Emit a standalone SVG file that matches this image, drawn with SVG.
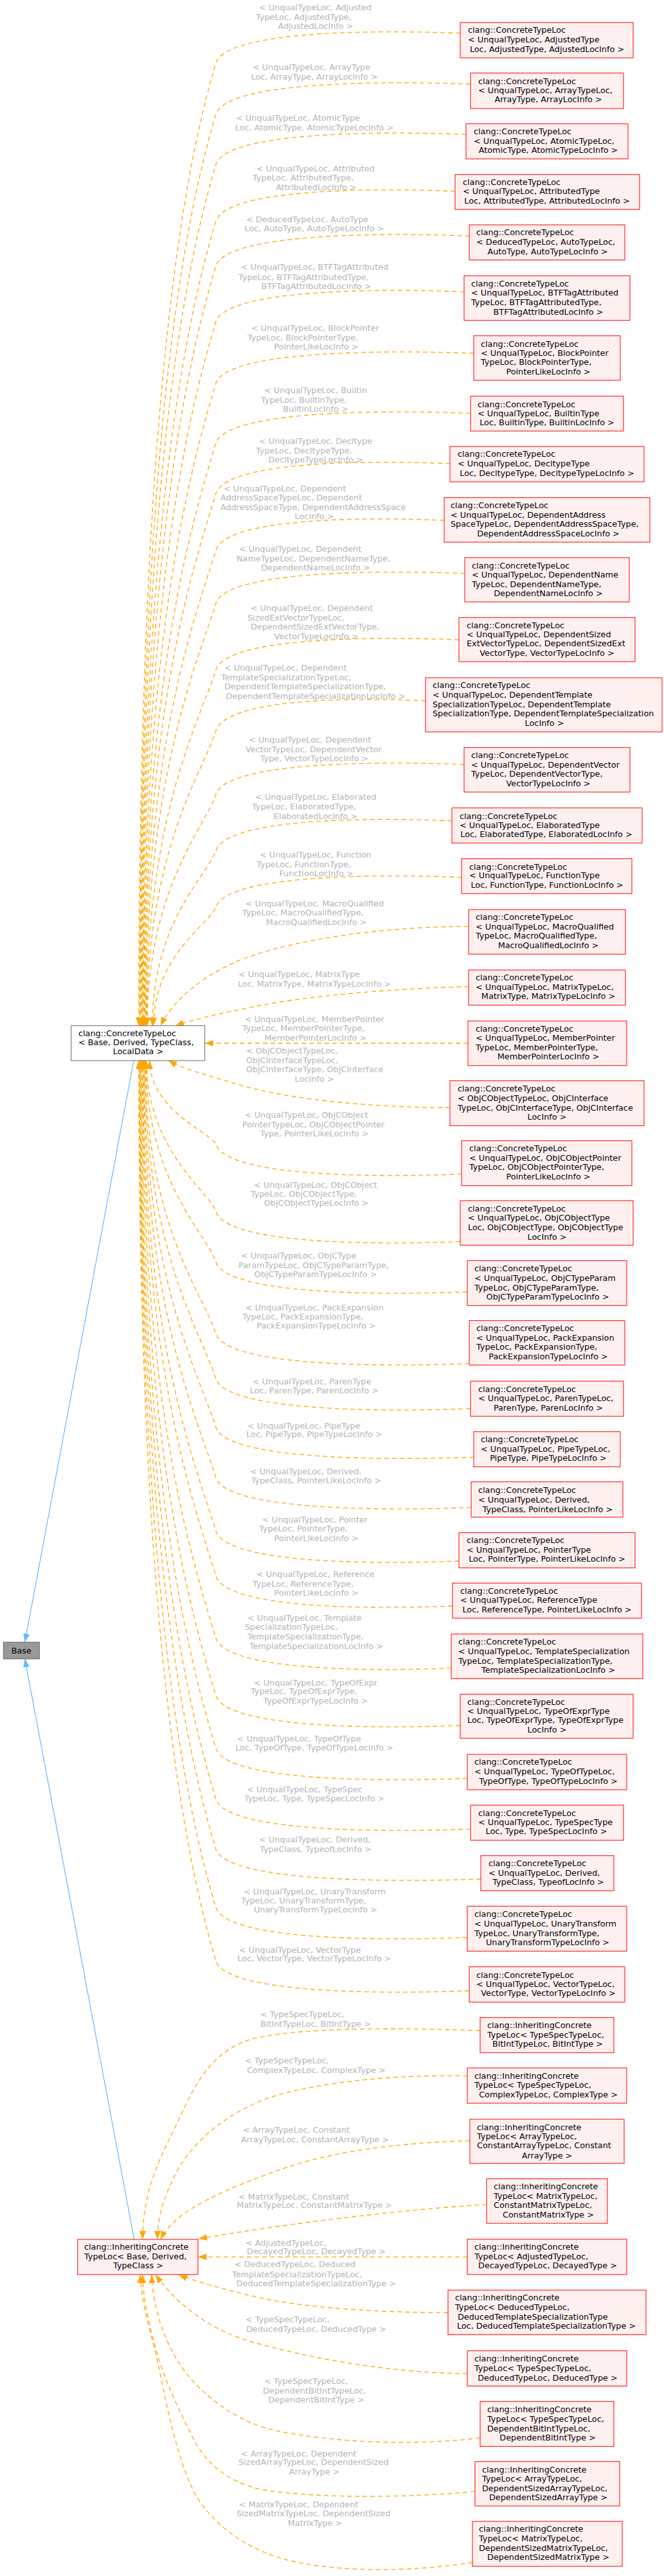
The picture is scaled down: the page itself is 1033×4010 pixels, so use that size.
<svg xmlns="http://www.w3.org/2000/svg" width="1033" height="4010" viewBox="0 0 1033 4010">
<defs>
<style>
.e{fill:none;stroke:#ffa500;stroke-width:1.3;stroke-dasharray:7,5;marker-end:url(#ao)}
.s{fill:none;stroke:#ffa500;stroke-width:1.3;stroke-dasharray:7,5;marker-end:url(#ao)}
.b{fill:none;stroke:#63b8ff;stroke-width:1.2;marker-end:url(#ab)}
.l{font-family:"DejaVu Sans",sans-serif;font-size:12.8px;fill:#b4b4b4}
.n text{font-family:"DejaVu Sans",sans-serif;font-size:12.8px;fill:#000}
.m{text-anchor:middle}
.r rect{fill:#fff0f0;stroke:#ff0000;stroke-width:1}
.w rect{fill:#ffffff;stroke:#666666;stroke-width:1}
.g rect{fill:#999999;stroke:#666666;stroke-width:1}
</style>
<marker id="ao" markerUnits="userSpaceOnUse" viewBox="0 0 13 10" markerWidth="13" markerHeight="10" refX="13" refY="5" orient="auto"><path d="M0,0L13,5L0,10z" fill="#ffa500"/></marker>
<marker id="ab" markerUnits="userSpaceOnUse" viewBox="0 0 13 10" markerWidth="13" markerHeight="10" refX="13" refY="5" orient="auto"><path d="M0,0L13,5L0,10z" fill="#63b8ff"/></marker>
</defs>
<rect width="1033" height="4010" fill="#ffffff"/>
<g id="connectors">
<path class="b" d="M208,1651 L38.7,2556.3"/>
<path class="b" d="M208.7,3486 L38.7,2582.3"/>
<path class="e" d="M716,51.7 C564,45.7 353,49.7 336,97.7 C276,297.7 216,697.3 216,1596.7"/>
<path class="e" d="M732,131 C574,125 353,129 336,177 C278.5,368.7 217,744.9 217,1596.7"/>
<path class="e" d="M725,209.3 C569,203.3 353,207.3 336,255.3 C281.7,436.4 218,791.9 218,1596.7"/>
<path class="e" d="M708,297.7 C559,291.7 353,295.7 336,343.7 C285.2,512.9 219,844.9 219,1596.7"/>
<path class="e" d="M730,367.3 C572,361.3 353,365.3 336,413.3 C288.1,573.1 220,886.7 220,1596.7"/>
<path class="e" d="M722,454.3 C568,448.3 353,452.3 336,500.3 C291.6,648.3 221,938.9 221,1596.7"/>
<path class="e" d="M737,550 C577,544 353,548 336,596 C295.5,731.1 222,996.3 222,1596.7"/>
<path class="e" d="M732,643.3 C574,637.3 353,641.3 336,689.3 C299.3,811.8 223,1052.3 223,1596.7"/>
<path class="e" d="M700,721.7 C554,715.7 353,719.7 336,767.7 C302.4,879.6 224,1099.3 224,1596.7"/>
<path class="e" d="M691,810 C549,804 353,808 336,856 C306,956 225,1152.3 225,1596.7"/>
<path class="e" d="M723,892.7 C568,886.7 353,890.7 336,938.7 C309.4,1027.5 226,1201.9 226,1596.7"/>
<path class="e" d="M714,996 C563,990 353,994 336,1042 C313.5,1116.9 227,1263.9 227,1596.7"/>
<path class="e" d="M662,1091 C532,1085 353,1089 336,1137 C317.4,1199.1 228,1320.9 228,1596.7"/>
<path class="e" d="M722,1190 C568,1184 353,1188 336,1236 C321.4,1284.7 229,1380.3 229,1596.7"/>
<path class="e" d="M703,1277.7 C556,1271.7 353,1275.7 336,1323.7 C324.9,1360.6 237,1432.9 237,1596.7"/>
<path class="e" d="M718,1365.7 C565,1359.7 353,1363.7 336,1411.7 C328.5,1436.7 239,1485.7 239,1596.7"/>
<path class="e" d="M729,1442.3 C600,1442 460,1462 380,1492 C320,1515 270,1555 250,1596.7"/>
<path class="e" d="M729,1536 C620,1538 480,1550 400,1566 C340,1578 300,1587 273,1596.7"/>
<path class="e" d="M728,1624 L318.7,1624"/>
<path class="e" d="M700,1724.3 C580,1724 450,1712 370,1688 C320,1673 285,1664 262,1651"/>
<path class="e" d="M718,1827.7 C565,1833.7 353,1829.7 336,1781.7 C330.7,1764.1 233,1729.4 233,1651"/>
<path class="e" d="M716,1932.7 C564,1938.7 353,1934.7 336,1886.7 C326.5,1854.9 228,1792.4 228,1651"/>
<path class="e" d="M727,2011 C571,2017 353,2013 336,1965 C323.3,1922.6 227,1839.4 227,1651"/>
<path class="e" d="M730,2122.7 C572,2128.7 353,2124.7 336,2076.7 C318.8,2019.2 226,1906.4 226,1651"/>
<path class="e" d="M732,2192.7 C574,2198.7 353,2194.7 336,2146.7 C315.9,2079.8 225,1948.4 225,1651"/>
<path class="e" d="M737,2268.3 C577,2274.3 353,2270.3 336,2222.3 C312.9,2145.2 224,1993.8 224,1651"/>
<path class="e" d="M733,2346.7 C574,2352.7 353,2348.7 336,2300.7 C309.7,2213 223,2040.8 223,1651"/>
<path class="e" d="M714,2430 C563,2436 353,2432 336,2384 C306.3,2285 222,2090.8 222,1651"/>
<path class="e" d="M704,2500 C557,2506 353,2502 336,2454 C303.5,2345.6 221,2132.8 221,1651"/>
<path class="e" d="M702,2596.7 C556,2602.7 353,2598.7 336,2550.7 C299.6,2429.2 220,2190.8 220,1651"/>
<path class="e" d="M716,2686 C564,2692 353,2688 336,2640 C296,2506.5 219,2244.4 219,1651"/>
<path class="e" d="M727,2768.3 C571,2774.3 353,2770.3 336,2722.3 C292.6,2577.7 218,2293.8 218,1651"/>
<path class="e" d="M732,2847.3 C574,2853.3 353,2849.3 336,2801.3 C289.4,2646 217.5,2341.2 217.5,1651"/>
<path class="e" d="M748,2925 C583,2931 353,2927 336,2879 C286.3,2713.2 217,2387.8 217,1651"/>
<path class="e" d="M727,3016 C571,3022 353,3018 336,2970 C282.6,2791.9 216.5,2442.4 216.5,1651"/>
<path class="e" d="M730,3099 C572,3105 353,3101 336,3053 C279.2,2863.7 216,2492.2 216,1651"/>
<path class="e" d="M747,3161 C640,3157 480,3155 400,3172 C340,3186 310,3230 285,3285 C255,3350 222,3400 222,3486"/>
<path class="e" d="M727,3231.7 C620,3229 500,3240 420,3265 C350,3290 300,3335 275,3380 C255,3420 245,3450 245,3486"/>
<path class="e" d="M731,3332.3 C620,3336 520,3348 440,3376 C360,3404 270,3440 250,3486"/>
<path class="e" d="M757,3431.7 C650,3438 480,3456 309,3485"/>
<path class="e" d="M727,3513.3 L308,3513.3"/>
<path class="e" d="M697,3600 C600,3600 480,3594 400,3576 C350,3564 300,3550 278,3541.5"/>
<path class="e" d="M727,3695 C600,3694 470,3668 390,3645 C320,3625 270,3580 242,3541"/>
<path class="e" d="M747,3795 C640,3808 520,3802 430,3784 C360,3768 315,3725 290,3695 C260,3655 238,3600 236,3541"/>
<path class="e" d="M739,3878.3 C640,3888 500,3890 410,3876 C350,3864 318,3830 300,3795 C270,3735 250,3690 238,3640 C228,3600 222,3570 222,3541"/>
<path class="e" d="M735,3989 C640,4004 510,4006 430,3980 C370,3960 330,3925 305,3885 C280,3840 262,3760 248,3690 C238,3640 220,3590 218,3541"/>
<text class="l" x="403" y="16.2">&lt; UnqualTypeLoc, Adjusted</text><text class="l" x="398" y="31.2">TypeLoc, AdjustedType,</text><text class="l m" x="491" y="45.2">AdjustedLocInfo &gt;</text>
<text class="l" x="393" y="109.2">&lt; UnqualTypeLoc, ArrayType</text><text class="l m" x="489" y="123.8">Loc, ArrayType, ArrayLocInfo &gt;</text>
<text class="l" x="367" y="188.2">&lt; UnqualTypeLoc, AtomicType</text><text class="l m" x="489" y="203.2">Loc, AtomicType, AtomicTypeLocInfo &gt;</text>
<text class="l" x="399" y="267.2">&lt; UnqualTypeLoc, Attributed</text><text class="l" x="393" y="281.2">TypeLoc, AttributedType,</text><text class="l m" x="492" y="296.2">AttributedLocInfo &gt;</text>
<text class="l" x="383" y="345.5">&lt; DeducedTypeLoc, AutoType</text><text class="l m" x="489" y="360.2">Loc, AutoType, AutoTypeLocInfo &gt;</text>
<text class="l" x="375" y="420.2">&lt; UnqualTypeLoc, BTFTagAttributed</text><text class="l" x="371" y="435.5">TypeLoc, BTFTagAttributedType,</text><text class="l m" x="492" y="449.5">BTFTagAttributedLocInfo &gt;</text>
<text class="l" x="391" y="515.2">&lt; UnqualTypeLoc, BlockPointer</text><text class="l" x="385" y="529.5">TypeLoc, BlockPointerType,</text><text class="l m" x="492" y="543.8">PointerLikeLocInfo &gt;</text>
<text class="l" x="411" y="612.2">&lt; UnqualTypeLoc, Builtin</text><text class="l" x="406" y="626.8">TypeLoc, BuiltinType,</text><text class="l m" x="491" y="641.2">BuiltinLocInfo &gt;</text>
<text class="l" x="403" y="691.2">&lt; UnqualTypeLoc, Decltype</text><text class="l" x="398" y="705.5">TypeLoc, DecltypeType,</text><text class="l m" x="491" y="719.8">DecltypeTypeLocInfo &gt;</text>
<text class="l" x="348" y="764.5">&lt; UnqualTypeLoc, Dependent</text><text class="l" x="343" y="779.2">AddressSpaceTypeLoc, Dependent</text><text class="l" x="343" y="793.5">AddressSpaceType, DependentAddressSpace</text><text class="l m" x="489" y="808.2">LocInfo &gt;</text>
<text class="l" x="372" y="858.8">&lt; UnqualTypeLoc, Dependent</text><text class="l" x="368" y="873.5">NameTypeLoc, DependentNameType,</text><text class="l m" x="491" y="887.8">DependentNameLocInfo &gt;</text>
<text class="l" x="390" y="951.2">&lt; UnqualTypeLoc, Dependent</text><text class="l" x="385" y="965.5">SizedExtVectorTypeLoc,</text><text class="l" x="390" y="980.2">DependentSizedExtVectorType,</text><text class="l m" x="492" y="995.2">VectorTypeLocInfo &gt;</text>
<text class="l" x="349" y="1043.8">&lt; UnqualTypeLoc, Dependent</text><text class="l" x="344" y="1058.8">TemplateSpecializationTypeLoc,</text><text class="l" x="349" y="1072.8">DependentTemplateSpecializationType,</text><text class="l m" x="491" y="1088.2">DependentTemplateSpecializationLocInfo &gt;</text>
<text class="l" x="387" y="1156.2">&lt; UnqualTypeLoc, Dependent</text><text class="l" x="382" y="1171.2">VectorTypeLoc, DependentVector</text><text class="l m" x="489" y="1184.8">Type, VectorTypeLocInfo &gt;</text>
<text class="l" x="397" y="1245.2">&lt; UnqualTypeLoc, Elaborated</text><text class="l" x="392" y="1259.8">TypeLoc, ElaboratedType,</text><text class="l m" x="491" y="1275.2">ElaboratedLocInfo &gt;</text>
<text class="l" x="404" y="1335.2">&lt; UnqualTypeLoc, Function</text><text class="l" x="399" y="1349.5">TypeLoc, FunctionType,</text><text class="l m" x="492" y="1363.8">FunctionLocInfo &gt;</text>
<text class="l" x="382" y="1411.2">&lt; UnqualTypeLoc, MacroQualified</text><text class="l" x="377" y="1425.2">TypeLoc, MacroQualifiedType,</text><text class="l m" x="492" y="1440.2">MacroQualifiedLocInfo &gt;</text>
<text class="l" x="371" y="1521.2">&lt; UnqualTypeLoc, MatrixType</text><text class="l m" x="489" y="1536.2">Loc, MatrixType, MatrixTypeLocInfo &gt;</text>
<text class="l" x="381" y="1591.2">&lt; UnqualTypeLoc, MemberPointer</text><text class="l" x="377" y="1605.2">TypeLoc, MemberPointerType,</text><text class="l m" x="491" y="1619.8">MemberPointerLocInfo &gt;</text>
<text class="l" x="383" y="1640.2">&lt; ObjCObjectTypeLoc,</text><text class="l" x="383" y="1655.2">ObjCInterfaceTypeLoc,</text><text class="l" x="383" y="1668.8">ObjCInterfaceType, ObjCInterface</text><text class="l m" x="489" y="1683.8">LocInfo &gt;</text>
<text class="l" x="381" y="1740.2">&lt; UnqualTypeLoc, ObjCObject</text><text class="l" x="377" y="1755.2">PointerTypeLoc, ObjCObjectPointer</text><text class="l m" x="489" y="1768.8">Type, PointerLikeLocInfo &gt;</text>
<text class="l" x="395" y="1848.5">&lt; UnqualTypeLoc, ObjCObject</text><text class="l" x="390" y="1863.2">TypeLoc, ObjCObjectType,</text><text class="l m" x="492" y="1877.2">ObjCObjectTypeLocInfo &gt;</text>
<text class="l" x="375" y="1958.8">&lt; UnqualTypeLoc, ObjCType</text><text class="l" x="371" y="1973.5">ParamTypeLoc, ObjCTypeParamType,</text><text class="l m" x="491" y="1988.2">ObjCTypeParamTypeLocInfo &gt;</text>
<text class="l" x="382" y="2039.5">&lt; UnqualTypeLoc, PackExpansion</text><text class="l" x="377" y="2053.5">TypeLoc, PackExpansionType,</text><text class="l m" x="492" y="2067.8">PackExpansionTypeLocInfo &gt;</text>
<text class="l" x="393" y="2155.2">&lt; UnqualTypeLoc, ParenType</text><text class="l m" x="489" y="2169.2">Loc, ParenType, ParenLocInfo &gt;</text>
<text class="l" x="385" y="2223.5">&lt; UnqualTypeLoc, PipeType</text><text class="l m" x="489" y="2237.2">Loc, PipeType, PipeTypeLocInfo &gt;</text>
<text class="l" x="389" y="2295.2">&lt; UnqualTypeLoc, Derived,</text><text class="l m" x="492" y="2309.2">TypeClass, PointerLikeLocInfo &gt;</text>
<text class="l" x="408" y="2369.5">&lt; UnqualTypeLoc, Pointer</text><text class="l" x="403" y="2384.2">TypeLoc, PointerType,</text><text class="l m" x="492" y="2398.8">PointerLikeLocInfo &gt;</text>
<text class="l" x="399" y="2455.2">&lt; UnqualTypeLoc, Reference</text><text class="l" x="393" y="2469.5">TypeLoc, ReferenceType,</text><text class="l m" x="492" y="2483.8">PointerLikeLocInfo &gt;</text>
<text class="l" x="385" y="2523.2">&lt; UnqualTypeLoc, Template</text><text class="l" x="381" y="2537.2">SpecializationTypeLoc,</text><text class="l" x="385" y="2551.8">TemplateSpecializationType,</text><text class="l m" x="492" y="2566.8">TemplateSpecializationLocInfo &gt;</text>
<text class="l" x="395" y="2623.5">&lt; UnqualTypeLoc, TypeOfExpr</text><text class="l" x="390" y="2637.2">TypeLoc, TypeOfExprType,</text><text class="l m" x="491" y="2651.8">TypeOfExprTypeLocInfo &gt;</text>
<text class="l" x="369" y="2711.2">&lt; UnqualTypeLoc, TypeOfType</text><text class="l m" x="489" y="2725.2">Loc, TypeOfType, TypeOfTypeLocInfo &gt;</text>
<text class="l" x="384" y="2789.5">&lt; UnqualTypeLoc, TypeSpec</text><text class="l m" x="489" y="2803.8">TypeLoc, Type, TypeSpecLocInfo &gt;</text>
<text class="l" x="403" y="2868.2">&lt; UnqualTypeLoc, Derived,</text><text class="l m" x="491" y="2883.2">TypeClass, TypeofLocInfo &gt;</text>
<text class="l" x="379" y="2948.5">&lt; UnqualTypeLoc, UnaryTransform</text><text class="l" x="375" y="2962.8">TypeLoc, UnaryTransformType,</text><text class="l m" x="491" y="2977.2">UnaryTransformTypeLocInfo &gt;</text>
<text class="l" x="372" y="3039.5">&lt; UnqualTypeLoc, VectorType</text><text class="l m" x="489" y="3053.2">Loc, VectorType, VectorTypeLocInfo &gt;</text>
<text class="l" x="405" y="3140.2">&lt; TypeSpecTypeLoc,</text><text class="l m" x="491" y="3155.2">BitIntTypeLoc, BitIntType &gt;</text>
<text class="l" x="381" y="3212.2">&lt; TypeSpecTypeLoc,</text><text class="l m" x="492" y="3226.8">ComplexTypeLoc, ComplexType &gt;</text>
<text class="l" x="378" y="3320.2">&lt; ArrayTypeLoc, Constant</text><text class="l m" x="490" y="3335.2">ArrayTypeLoc, ConstantArrayType &gt;</text>
<text class="l" x="371" y="3423.5">&lt; MatrixTypeLoc, Constant</text><text class="l m" x="489" y="3437.2">MatrixTypeLoc, ConstantMatrixType &gt;</text>
<text class="l" x="382" y="3495.5">&lt; AdjustedTypeLoc,</text><text class="l m" x="492" y="3508.8">DecayedTypeLoc, DecayedType &gt;</text>
<text class="l" x="365" y="3529.2">&lt; DeducedTypeLoc, Deduced</text><text class="l" x="361" y="3544.5">TemplateSpecializationTypeLoc,</text><text class="l m" x="492" y="3558.8">DeducedTemplateSpecializationType &gt;</text>
<text class="l" x="382" y="3615.2">&lt; TypeSpecTypeLoc,</text><text class="l m" x="492" y="3629.5">DeducedTypeLoc, DeducedType &gt;</text>
<text class="l" x="411" y="3711.2">&lt; TypeSpecTypeLoc,</text><text class="l" x="409" y="3725.5">DependentBitIntTypeLoc,</text><text class="l m" x="492" y="3740.2">DependentBitIntType &gt;</text>
<text class="l" x="375" y="3823.5">&lt; ArrayTypeLoc, Dependent</text><text class="l" x="371" y="3837.2">SizedArrayTypeLoc, DependentSized</text><text class="l m" x="489" y="3852.2">ArrayType &gt;</text>
<text class="l" x="372" y="3903.2">&lt; MatrixTypeLoc, Dependent</text><text class="l" x="368" y="3917.2">SizedMatrixTypeLoc, DependentSized</text><text class="l m" x="490" y="3932.2">MatrixType &gt;</text>
</g>
<g id="n-base" class="n g"><rect x="5.3" y="2556.3" width="56" height="26"/><text class="m" x="33.3" y="2573.6">Base</text></g>
<g id="n-concrete" class="n w"><rect x="110.7" y="1596.7" width="208" height="54.3"/><text x="122" y="1612.8">clang::ConcreteTypeLoc</text><text x="122" y="1627.2">&lt; Base, Derived, TypeClass,</text><text class="m" x="215" y="1641.2">LocalData &gt;</text></g>
<g id="n-inheriting" class="n r"><rect x="120.7" y="3486" width="187.3" height="54.7"/><text x="131" y="3501.8">clang::InheritingConcrete</text><text x="131" y="3517.2">TypeLoc&lt; Base, Derived,</text><text class="m" x="215" y="3531.2">TypeClass &gt;</text></g>
<g id="n1" class="n r"><rect x="716" y="35" width="269" height="55"/><text x="728" y="51.2">clang::ConcreteTypeLoc</text><text x="728" y="66.2">&lt; UnqualTypeLoc, AdjustedType</text><text class="m" x="851" y="81.2">Loc, AdjustedType, AdjustedLocInfo &gt;</text></g>
<g id="n2" class="n r"><rect x="732" y="113.7" width="238" height="55.3"/><text x="744" y="130.5">clang::ConcreteTypeLoc</text><text x="744" y="145.2">&lt; UnqualTypeLoc, ArrayTypeLoc,</text><text class="m" x="853" y="159.2">ArrayType, ArrayLocInfo &gt;</text></g>
<g id="n3" class="n r"><rect x="725" y="192.7" width="252" height="54.6"/><text x="737" y="209.2">clang::ConcreteTypeLoc</text><text x="737" y="223.5">&lt; UnqualTypeLoc, AtomicTypeLoc,</text><text class="m" x="853" y="237.8">AtomicType, AtomicTypeLocInfo &gt;</text></g>
<g id="n4" class="n r"><rect x="708" y="271.7" width="287" height="54.3"/><text x="720" y="287.5">clang::ConcreteTypeLoc</text><text x="720" y="302.2">&lt; UnqualTypeLoc, AttributedType</text><text class="m" x="851" y="317.2">Loc, AttributedType, AttributedLocInfo &gt;</text></g>
<g id="n5" class="n r"><rect x="730" y="350" width="242" height="54.7"/><text x="741" y="366.2">clang::ConcreteTypeLoc</text><text x="741" y="381.2">&lt; DeducedTypeLoc, AutoTypeLoc,</text><text class="m" x="852" y="395.5">AutoType, AutoTypeLocInfo &gt;</text></g>
<g id="n6" class="n r"><rect x="722" y="429.3" width="258" height="69.4"/><text x="733" y="445.5">clang::ConcreteTypeLoc</text><text x="733" y="460.2">&lt; UnqualTypeLoc, BTFTagAttributed</text><text x="733" y="475.2">TypeLoc, BTFTagAttributedType,</text><text class="m" x="853" y="489.5">BTFTagAttributedLocInfo &gt;</text></g>
<g id="n7" class="n r"><rect x="737" y="522.7" width="228" height="69.3"/><text x="748" y="539.5">clang::ConcreteTypeLoc</text><text x="748" y="553.5">&lt; UnqualTypeLoc, BlockPointer</text><text x="748" y="568.2">TypeLoc, BlockPointerType,</text><text class="m" x="853" y="582.8">PointerLikeLocInfo &gt;</text></g>
<g id="n8" class="n r"><rect x="732" y="616.7" width="238" height="54.3"/><text x="743" y="633.5">clang::ConcreteTypeLoc</text><text x="743" y="647.5">&lt; UnqualTypeLoc, BuiltinType</text><text class="m" x="851" y="662.2">Loc, BuiltinType, BuiltinLocInfo &gt;</text></g>
<g id="n9" class="n r"><rect x="700" y="695" width="302" height="55"/><text x="712" y="711.2">clang::ConcreteTypeLoc</text><text x="712" y="726.2">&lt; UnqualTypeLoc, DecltypeType</text><text class="m" x="851" y="741.2">Loc, DecltypeType, DecltypeTypeLocInfo &gt;</text></g>
<g id="n10" class="n r"><rect x="691" y="774.7" width="320" height="69.3"/><text x="701" y="791.2">clang::ConcreteTypeLoc</text><text x="701" y="805.5">&lt; UnqualTypeLoc, DependentAddress</text><text x="701" y="820.2">SpaceTypeLoc, DependentAddressSpaceType,</text><text class="m" x="853" y="835.2">DependentAddressSpaceLocInfo &gt;</text></g>
<g id="n11" class="n r"><rect x="723" y="868" width="256" height="69"/><text x="734" y="884.5">clang::ConcreteTypeLoc</text><text x="734" y="899.2">&lt; UnqualTypeLoc, DependentName</text><text x="734" y="913.5">TypeLoc, DependentNameType,</text><text class="m" x="853" y="928.2">DependentNameLocInfo &gt;</text></g>
<g id="n12" class="n r"><rect x="714" y="961.3" width="274" height="68.7"/><text x="726" y="977.5">clang::ConcreteTypeLoc</text><text x="726" y="991.8">&lt; UnqualTypeLoc, DependentSized</text><text x="726" y="1006.2">ExtVectorTypeLoc, DependentSizedExt</text><text class="m" x="851" y="1021.2">VectorType, VectorTypeLocInfo &gt;</text></g>
<g id="n13" class="n r"><rect x="662" y="1055" width="368" height="84.3"/><text x="673" y="1071.2">clang::ConcreteTypeLoc</text><text x="673" y="1086.2">&lt; UnqualTypeLoc, DependentTemplate</text><text x="673" y="1100.8">SpecializationTypeLoc, DependentTemplate</text><text x="673" y="1115.2">SpecializationType, DependentTemplateSpecialization</text><text class="m" x="847" y="1130.2">LocInfo &gt;</text></g>
<g id="n14" class="n r"><rect x="722" y="1163.7" width="258" height="69.3"/><text x="733" y="1180.2">clang::ConcreteTypeLoc</text><text x="733" y="1194.8">&lt; UnqualTypeLoc, DependentVector</text><text x="733" y="1209.2">TypeLoc, DependentVectorType,</text><text class="m" x="853" y="1223.8">VectorTypeLocInfo &gt;</text></g>
<g id="n15" class="n r"><rect x="703" y="1257.7" width="296" height="54.6"/><text x="715" y="1274.5">clang::ConcreteTypeLoc</text><text x="715" y="1288.8">&lt; UnqualTypeLoc, ElaboratedType</text><text class="m" x="850" y="1303.2">Loc, ElaboratedType, ElaboratedLocInfo &gt;</text></g>
<g id="n16" class="n r"><rect x="718" y="1336.7" width="265" height="54.3"/><text x="730" y="1353.5">clang::ConcreteTypeLoc</text><text x="730" y="1367.2">&lt; UnqualTypeLoc, FunctionType</text><text class="m" x="851" y="1382.2">Loc, FunctionType, FunctionLocInfo &gt;</text></g>
<g id="n17" class="n r"><rect x="729" y="1416" width="244" height="69.3"/><text x="740" y="1432.2">clang::ConcreteTypeLoc</text><text x="740" y="1446.8">&lt; UnqualTypeLoc, MacroQualified</text><text x="740" y="1461.2">TypeLoc, MacroQualifiedType,</text><text class="m" x="853" y="1475.8">MacroQualifiedLocInfo &gt;</text></g>
<g id="n18" class="n r"><rect x="729" y="1510" width="244" height="54.7"/><text x="740" y="1526.2">clang::ConcreteTypeLoc</text><text x="740" y="1541.2">&lt; UnqualTypeLoc, MatrixTypeLoc,</text><text class="m" x="853" y="1555.2">MatrixType, MatrixTypeLocInfo &gt;</text></g>
<g id="n19" class="n r"><rect x="728" y="1589.3" width="247" height="69.4"/><text x="740" y="1605.5">clang::ConcreteTypeLoc</text><text x="740" y="1620.2">&lt; UnqualTypeLoc, MemberPointer</text><text x="740" y="1635.2">TypeLoc, MemberPointerType,</text><text class="m" x="853" y="1648.8">MemberPointerLocInfo &gt;</text></g>
<g id="n20" class="n r"><rect x="700" y="1682.3" width="302" height="70"/><text x="712" y="1698.8">clang::ConcreteTypeLoc</text><text x="712" y="1713.5">&lt; ObjCObjectTypeLoc, ObjCInterface</text><text x="712" y="1728.5">TypeLoc, ObjCInterfaceType, ObjCInterface</text><text class="m" x="851" y="1742.8">LocInfo &gt;</text></g>
<g id="n21" class="n r"><rect x="718" y="1775.7" width="265" height="70"/><text x="730" y="1792.2">clang::ConcreteTypeLoc</text><text x="730" y="1807.2">&lt; UnqualTypeLoc, ObjCObjectPointer</text><text x="730" y="1821.2">TypeLoc, ObjCObjectPointerType,</text><text class="m" x="853" y="1836.2">PointerLikeLocInfo &gt;</text></g>
<g id="n22" class="n r"><rect x="716" y="1869" width="269" height="69.3"/><text x="728" y="1885.5">clang::ConcreteTypeLoc</text><text x="728" y="1900.2">&lt; UnqualTypeLoc, ObjCObjectType</text><text x="728" y="1915.2">Loc, ObjCObjectType, ObjCObjectType</text><text class="m" x="851" y="1929.5">LocInfo &gt;</text></g>
<g id="n23" class="n r"><rect x="727" y="1962.3" width="248" height="70"/><text x="738" y="1979.2">clang::ConcreteTypeLoc</text><text x="738" y="1993.5">&lt; UnqualTypeLoc, ObjCTypeParam</text><text x="738" y="2008.5">TypeLoc, ObjCTypeParamType,</text><text class="m" x="852" y="2022.8">ObjCTypeParamTypeLocInfo &gt;</text></g>
<g id="n24" class="n r"><rect x="730" y="2055.7" width="242" height="69.3"/><text x="741" y="2072.2">clang::ConcreteTypeLoc</text><text x="741" y="2087.2">&lt; UnqualTypeLoc, PackExpansion</text><text x="741" y="2101.2">TypeLoc, PackExpansionType,</text><text class="m" x="853" y="2115.8">PackExpansionTypeLocInfo &gt;</text></g>
<g id="n25" class="n r"><rect x="732" y="2150" width="238" height="54.7"/><text x="744" y="2166.5">clang::ConcreteTypeLoc</text><text x="744" y="2181.2">&lt; UnqualTypeLoc, ParenTypeLoc,</text><text class="m" x="853" y="2195.5">ParenType, ParenLocInfo &gt;</text></g>
<g id="n26" class="n r"><rect x="737" y="2228.7" width="228" height="54.6"/><text x="748" y="2245.2">clang::ConcreteTypeLoc</text><text x="748" y="2259.5">&lt; UnqualTypeLoc, PipeTypeLoc,</text><text class="m" x="853" y="2273.8">PipeType, PipeTypeLocInfo &gt;</text></g>
<g id="n27" class="n r"><rect x="733" y="2306.7" width="236" height="55"/><text x="744" y="2324">clang::ConcreteTypeLoc</text><text x="744" y="2338.7">&lt; UnqualTypeLoc, Derived,</text><text class="m" x="852" y="2353.5">TypeClass, PointerLikeLocInfo &gt;</text></g>
<g id="n28" class="n r"><rect x="714" y="2385.7" width="274" height="55"/><text x="726" y="2402.2">clang::ConcreteTypeLoc</text><text x="726" y="2417.2">&lt; UnqualTypeLoc, PointerType</text><text class="m" x="851" y="2431.2">Loc, PointerType, PointerLikeLocInfo &gt;</text></g>
<g id="n29" class="n r"><rect x="704" y="2464.3" width="294" height="54.7"/><text x="716" y="2481.2">clang::ConcreteTypeLoc</text><text x="716" y="2495.2">&lt; UnqualTypeLoc, ReferenceType</text><text class="m" x="851" y="2510.2">Loc, ReferenceType, PointerLikeLocInfo &gt;</text></g>
<g id="n30" class="n r"><rect x="702" y="2543.7" width="298" height="69.3"/><text x="713" y="2560.2">clang::ConcreteTypeLoc</text><text x="713" y="2575.2">&lt; UnqualTypeLoc, TemplateSpecialization</text><text x="713" y="2589.5">TypeLoc, TemplateSpecializationType,</text><text class="m" x="853" y="2604.2">TemplateSpecializationLocInfo &gt;</text></g>
<g id="n31" class="n r"><rect x="716" y="2637.3" width="269" height="68.7"/><text x="727" y="2653.5">clang::ConcreteTypeLoc</text><text x="727" y="2667.8">&lt; UnqualTypeLoc, TypeOfExprType</text><text x="727" y="2681.8">Loc, TypeOfExprType, TypeOfExprType</text><text class="m" x="851" y="2697.2">LocInfo &gt;</text></g>
<g id="n32" class="n r"><rect x="727" y="2731" width="248" height="55"/><text x="738" y="2747.2">clang::ConcreteTypeLoc</text><text x="738" y="2762.2">&lt; UnqualTypeLoc, TypeOfTypeLoc,</text><text class="m" x="853" y="2777.2">TypeOfType, TypeOfTypeLocInfo &gt;</text></g>
<g id="n33" class="n r"><rect x="732" y="2810" width="238" height="54.7"/><text x="744" y="2826.5">clang::ConcreteTypeLoc</text><text x="744" y="2840.8">&lt; UnqualTypeLoc, TypeSpecType</text><text class="m" x="850" y="2855.2">Loc, Type, TypeSpecLocInfo &gt;</text></g>
<g id="n34" class="n r"><rect x="748" y="2888.7" width="207" height="54.6"/><text x="760" y="2905.2">clang::ConcreteTypeLoc</text><text x="760" y="2919.5">&lt; UnqualTypeLoc, Derived,</text><text class="m" x="853" y="2933.8">TypeClass, TypeofLocInfo &gt;</text></g>
<g id="n35" class="n r"><rect x="727" y="2967.3" width="248" height="70"/><text x="738" y="2984.2">clang::ConcreteTypeLoc</text><text x="738" y="2998.8">&lt; UnqualTypeLoc, UnaryTransform</text><text x="738" y="3013.5">TypeLoc, UnaryTransformType,</text><text class="m" x="852" y="3027.8">UnaryTransformTypeLocInfo &gt;</text></g>
<g id="n36" class="n r"><rect x="730" y="3061.7" width="242" height="55"/><text x="741" y="3078.5">clang::ConcreteTypeLoc</text><text x="741" y="3093.2">&lt; UnqualTypeLoc, VectorTypeLoc,</text><text class="m" x="853" y="3107.2">VectorType, VectorTypeLocInfo &gt;</text></g>
<g id="n37" class="n r"><rect x="747" y="3140.7" width="208" height="54.6"/><text x="758" y="3157.2">clang::InheritingConcrete</text><text x="758" y="3171.8">TypeLoc&lt; TypeSpecTypeLoc,</text><text class="m" x="852" y="3186.2">BitIntTypeLoc, BitIntType &gt;</text></g>
<g id="n38" class="n r"><rect x="727" y="3219" width="248" height="55"/><text x="738" y="3235.5">clang::InheritingConcrete</text><text x="738" y="3250.2">TypeLoc&lt; TypeSpecTypeLoc,</text><text class="m" x="853" y="3265.2">ComplexTypeLoc, ComplexType &gt;</text></g>
<g id="n39" class="n r"><rect x="731" y="3299" width="240" height="68.7"/><text x="742" y="3315.5">clang::InheritingConcrete</text><text x="742" y="3329.5">TypeLoc&lt; ArrayTypeLoc,</text><text x="742" y="3343.8">ConstantArrayTypeLoc, Constant</text><text class="m" x="851" y="3359.5">ArrayType &gt;</text></g>
<g id="n40" class="n r"><rect x="757" y="3391.7" width="188" height="69.3"/><text x="768" y="3407.8">clang::InheritingConcrete</text><text x="768" y="3422.8">TypeLoc&lt; MatrixTypeLoc,</text><text x="768" y="3437.2">ConstantMatrixTypeLoc,</text><text class="m" x="853" y="3451.8">ConstantMatrixType &gt;</text></g>
<g id="n41" class="n r"><rect x="727" y="3485.7" width="248" height="55"/><text x="738" y="3501.8">clang::InheritingConcrete</text><text x="738" y="3517.2">TypeLoc&lt; AdjustedTypeLoc,</text><text class="m" x="852" y="3531.2">DecayedTypeLoc, DecayedType &gt;</text></g>
<g id="n42" class="n r"><rect x="697" y="3565" width="308" height="69.3"/><text x="708" y="3581.2">clang::InheritingConcrete</text><text x="708" y="3596.2">TypeLoc&lt; DeducedTypeLoc,</text><text x="712" y="3611.2">DeducedTemplateSpecializationType</text><text class="m" x="850" y="3625.2">Loc, DeducedTemplateSpecializationType &gt;</text></g>
<g id="n43" class="n r"><rect x="727" y="3659.3" width="248" height="55"/><text x="738" y="3676">clang::InheritingConcrete</text><text x="738" y="3691">TypeLoc&lt; TypeSpecTypeLoc,</text><text class="m" x="852" y="3705.8">DeducedTypeLoc, DeducedType &gt;</text></g>
<g id="n44" class="n r"><rect x="747" y="3738.3" width="208" height="70"/><text x="758" y="3755.2">clang::InheritingConcrete</text><text x="758" y="3769.5">TypeLoc&lt; TypeSpecTypeLoc,</text><text x="758" y="3784.5">DependentBitIntTypeLoc,</text><text class="m" x="852" y="3798.8">DependentBitIntType &gt;</text></g>
<g id="n45" class="n r"><rect x="739" y="3831.7" width="225" height="69.3"/><text x="750" y="3848.5">clang::InheritingConcrete</text><text x="750" y="3863.2">TypeLoc&lt; ArrayTypeLoc,</text><text x="750" y="3877.5">DependentSizedArrayTypeLoc,</text><text class="m" x="853" y="3892.2">DependentSizedArrayType &gt;</text></g>
<g id="n46" class="n r"><rect x="735" y="3925" width="233" height="70"/><text x="745" y="3941.2">clang::InheritingConcrete</text><text x="745" y="3956.2">TypeLoc&lt; MatrixTypeLoc,</text><text x="745" y="3971.2">DependentSizedMatrixTypeLoc,</text><text class="m" x="853" y="3985.2">DependentSizedMatrixType &gt;</text></g>
</svg>
